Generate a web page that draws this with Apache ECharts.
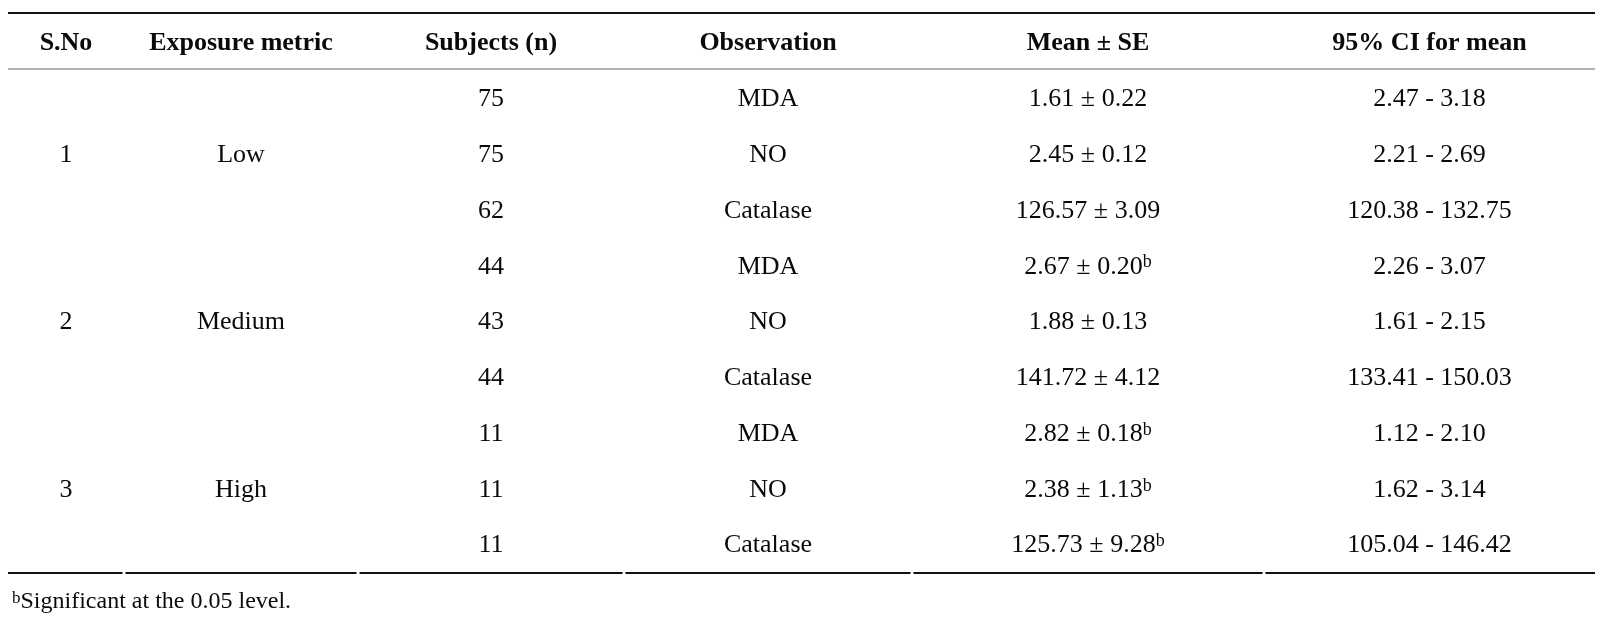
<!DOCTYPE html>
<html lang="en">
<head>
<meta charset="utf-8">
<title>Exposure metric table</title>
<script src="https://cdn.jsdelivr.net/npm/echarts@6/dist/echarts.min.js"></script>
</head>
<body style="margin: 0; background: #fff">
<div id="main" style="width: 1601px; height: 621px"></div>
<script>
// table contents
var headers = ['S.No', 'Exposure metric', 'Subjects (n)', 'Observation', 'Mean \u00b1 SE', '95% CI for mean'];
var groupNo = ['1', '2', '3'];
var groupNames = ['Low', 'Medium', 'High'];
var subjects = [75, 75, 62, 44, 43, 44, 11, 11, 11];
var observations = ['MDA', 'NO', 'Catalase', 'MDA', 'NO', 'Catalase', 'MDA', 'NO', 'Catalase'];
var means = ['1.61', '2.45', '126.57', '2.67', '1.88', '141.72', '2.82', '2.38', '125.73'];
var ses = ['0.22', '0.12', '3.09', '0.20', '0.13', '4.12', '0.18', '1.13', '9.28'];
var significant = [false, false, false, true, false, false, true, true, true];
var ciLow = ['2.47', '2.21', '120.38', '2.26', '1.61', '133.41', '1.12', '1.62', '105.04'];
var ciHigh = ['3.18', '2.69', '132.75', '3.07', '2.15', '150.03', '2.10', '3.14', '146.42'];
var footnote = 'Significant at the 0.05 level.';

// layout: column edges along the table (px from its left edge)
var colEdges = [0, 116, 350, 616, 904, 1256, 1587];
var FONT = '"Liberation Serif", "Times New Roman", serif';
var INK = '#0a0a0a';

function colCenter(i) { return (colEdges[i] + colEdges[i + 1]) / 2; }

var rowIdx = subjects.map(function (_, i) { return i; });

// body cells: [x, row, text]
var cells = [];
groupNames.forEach(function (g, k) {
  cells.push([colCenter(0), k * 3 + 1, groupNo[k]]);
  cells.push([colCenter(1), k * 3 + 1, g]);
});
rowIdx.forEach(function (i) {
  cells.push([colCenter(2), i, String(subjects[i])]);
  cells.push([colCenter(3), i, observations[i]]);
  cells.push([colCenter(4), i, '{v|' + means[i] + ' \u00b1 ' + ses[i] + '}' + (significant[i] ? '{s|b}' : '')]);
  cells.push([colCenter(5), i, ciLow[i] + ' - ' + ciHigh[i]]);
});
var headCells = headers.map(function (h, i) { return [colCenter(i), 0, h]; });

var rich = {
  v: { fontFamily: FONT, fontSize: 26, fill: INK },
  s: { fontFamily: FONT, fontSize: 18, fill: INK, verticalAlign: 'top' }
};

function renderText(list, bold, dy) {
  return function (params, api) {
    var p = api.coord([api.value(0), api.value(1)]);
    return {
      type: 'text',
      x: p[0],
      y: p[1] + dy,
      style: {
        text: list[params.dataIndex][2],
        fontFamily: FONT,
        fontSize: 26,
        fontWeight: bold ? 'bold' : 'normal',
        fill: INK,
        align: 'center',
        verticalAlign: 'middle',
        rich: rich
      }
    };
  };
}

var dom = document.getElementById('main');
var myChart = echarts.init(dom, null, { renderer: 'canvas' });

var option = {
  backgroundColor: '#fff',
  animation: false,
  title: {
    left: 7,
    top: 585,
    text: '{s|b}{t|' + footnote + '}',
    textStyle: {
      fontWeight: 'normal',
      rich: {
        s: { fontFamily: FONT, fontSize: 17, fontWeight: 'normal', color: INK, verticalAlign: 'top' },
        t: { fontFamily: FONT, fontSize: 24, fontWeight: 'normal', color: INK }
      }
    }
  },
  grid: [
    { left: 8, right: 6, top: 13, height: 56 },
    { left: 8, right: 6, top: 71.5, height: 502 }
  ],
  xAxis: [
    { type: 'value', gridIndex: 0, min: 0, max: 1587, show: false },
    { type: 'value', gridIndex: 1, min: 0, max: 1587, show: false }
  ],
  yAxis: [
    { type: 'category', gridIndex: 0, data: ['head'], show: false },
    { type: 'category', gridIndex: 1, data: rowIdx, inverse: true, show: false }
  ],
  series: [
    {
      type: 'custom',
      xAxisIndex: 0,
      yAxisIndex: 0,
      data: headCells,
      renderItem: renderText(headCells, true, 2)
    },
    {
      type: 'custom',
      xAxisIndex: 1,
      yAxisIndex: 1,
      data: cells,
      renderItem: renderText(cells, false, 0)
    },
    {
      // top rule and rule under the header
      type: 'custom',
      xAxisIndex: 0,
      yAxisIndex: 0,
      data: [[0, 0]],
      silent: true,
      renderItem: function (params, api) {
        var cs = params.coordSys;
        return {
          type: 'group',
          children: [
            { type: 'line', shape: { x1: cs.x, y1: cs.y, x2: cs.x + cs.width, y2: cs.y }, style: { stroke: '#111', lineWidth: 2.2 } },
            { type: 'line', shape: { x1: cs.x, y1: cs.y + cs.height, x2: cs.x + cs.width, y2: cs.y + cs.height }, style: { stroke: '#666', lineWidth: 1.2 } }
          ]
        };
      }
    },
    {
      // bottom rule, one segment per column
      type: 'custom',
      xAxisIndex: 1,
      yAxisIndex: 1,
      data: headers.map(function (_, i) { return [i, 0]; }),
      silent: true,
      renderItem: function (params, api) {
        var cs = params.coordSys;
        var i = api.value(0);
        var a = api.coord([colEdges[i], 0])[0] + (i > 0 ? 1.5 : 0);
        var b = api.coord([colEdges[i + 1], 0])[0] - (i < headers.length - 1 ? 1.5 : 0);
        var y = cs.y + cs.height - 0.5;
        return { type: 'line', shape: { x1: a, y1: y, x2: b, y2: y }, style: { stroke: '#111', lineWidth: 2.2 } };
      }
    }
  ]
};

myChart.setOption(option);
window.addEventListener('resize', myChart.resize);
</script>
</body>
</html>
